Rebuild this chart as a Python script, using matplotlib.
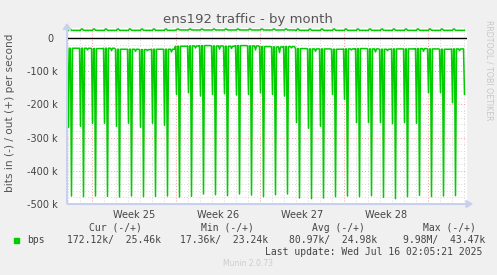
import numpy as np
import matplotlib
matplotlib.use("Agg")
import matplotlib.pyplot as plt

# ---- data (k bits/s), one value per day in view ----
in_base = [31, 31, 32, 31, 34, 34, 35, 34, 34, 25, 24, 23, 24, 25, 23, 24, 26, 27, 26,
           32, 33, 33, 34, 33, 32, 33, 34, 33, 33, 32, 33, 34, 33, 33]
in_notch = [0, 36, 0, 38, 0, 40, 38, 0, 42, 0, 30, 0, 34, 32, 0, 36, 0, 44, 30,
            0, 40, 0, 0, 36, 0, 42, 38, 0, 0, 40, 0, 0, 38, 0]
in_shallow = [269, 266, 257, 257, 266, 257, 269, 257, 263, 170, 165, 175, 170, 168, 172,
              170, 165, 170, 175, 255, 272, 266, 170, 185, 255, 255, 255, 258, 255, 257,
              165, 165, 195, 170]
in_deep = [476, 478, 476, 477, 479, 476, 478, 477, 476, 479, 477, 470, 472, 475, 470, 473,
           478, 472, 470, 482, 484, 482, 478, 476, 478, 475, 480, 484, 478, 474, 478, 476, 475]
out_base = [23, 23, 23, 23, 23, 23, 23, 23, 23, 24, 24, 24, 24, 24, 24, 24, 24, 24, 24,
            23, 23, 23, 23, 23, 23, 23, 23, 23, 23, 23, 23, 23, 23, 23]
out_bump = [27, 27, 27, 27, 27, 27, 27, 27, 27, 27, 27, 27, 27, 27, 27, 27, 27, 27, 27,
            27, 27, 27, 27, 27, 27, 27, 27, 27, 27, 27, 27, 27, 27, 27]

week_labels = ["Week 25", "Week 26", "Week 27", "Week 28"]
ytick_vals = [0, -100, -200, -300, -400, -500]
ytick_labels = ["0 ", "-100 k", "-200 k", "-300 k", "-400 k", "-500 k"]

legend_heads = ["Cur (-/+)", "Min (-/+)", "Avg (-/+)", "Max (-/+)"]
legend_vals = ["172.12k/  25.46k", "17.36k/  23.24k", "80.97k/  24.98k", "9.98M/  43.47k"]

# ---- assemble 2-hour samples ----
xs, yin, yout = [], [], []
n_days = len(in_base)
for d in range(n_days):
    for j in range(12):
        i = d * 12 + j
        x = (i + 0.5) / 12.0
        if x > 33.2:
            break
        v = -in_base[d]
        if j == 1:
            v = -in_shallow[d]
        elif j == 4 and d < len(in_deep):
            v = -in_deep[d]
        elif j == 8 and in_notch[d]:
            v = -in_notch[d]
        o = out_base[d]
        if j in (2, 3):
            o = out_bump[d]
        xs.append(x)
        yin.append(v * 1000)
        yout.append(o * 1000)

BG = "#F0F0F0"
fig = plt.figure(figsize=(4.97, 2.75), dpi=100, facecolor=BG)
ax = fig.add_axes([67 / 497, (275 - 204) / 275, 400 / 497, 176 / 275])
ax.set_facecolor("white")

XMAX = 400 / 12.0
ax.set_xlim(0, XMAX)
ax.set_ylim(-500000, 30000)

# grid
for d in range(34):
    xd = (1 / 12) + d
    if xd > XMAX:
        break
    is_week = (d - 2) % 7 == 0
    ax.axvline(xd, color=(1, 0.6, 0.6) if is_week else "#D8D8D8",
               lw=0.7, ls=(0, (1, 2)), zorder=1)
for v in range(-500, 40, 20):
    if v % 100 == 0:
        ax.axhline(v * 1000, color=(1, 0.6, 0.6), lw=0.7, ls=(0, (1, 2)), zorder=1)
    else:
        ax.axhline(v * 1000, color="#D8D8D8", lw=0.7, ls=(0, (1, 2)), zorder=1)

ax.axhline(0, color="black", lw=1.0, zorder=3)
ax.plot(xs, yout, color="#00CC00", lw=1.1, zorder=4)
ax.plot(xs, yin, color="#00CC00", lw=1.1, zorder=4)

for s in ["top", "right"]:
    ax.spines[s].set_visible(False)
ax.spines["left"].set_color("#C8D0E0")
ax.spines["bottom"].set_color("#C8D0E0")
ax.spines["left"].set_linewidth(0.8)
ax.spines["bottom"].set_linewidth(0.8)

ax.set_yticks([v * 1000 for v in ytick_vals])
ax.set_yticklabels(ytick_labels)
week_pos = [2 + 1 / 12 + 3.5 + 7 * k for k in range(len(week_labels))]
ax.set_xticks(week_pos)
ax.set_xticklabels(week_labels)
ax.tick_params(axis="both", length=0, labelsize=7, colors="#444444", pad=4)
ax.tick_params(axis="y", pad=7)

# arrows
fig.patches.append(matplotlib.patches.FancyArrow(67 / 497, (275 - 204) / 275, 0, 180 / 275,
                   width=0, head_width=0.015, head_length=0.02, color="#C8D0F0",
                   transform=fig.transFigure, length_includes_head=True))
fig.patches.append(matplotlib.patches.FancyArrow(67 / 497, (275 - 204) / 275, 405 / 497, 0,
                   width=0, head_width=0.025, head_length=0.012, color="#C8D0F0",
                   transform=fig.transFigure, length_includes_head=True))

fig.text(248 / 497, 1 - 19 / 275, "ens192 traffic - by month", ha="center", va="center",
         fontsize=9.5, color="#555555")
fig.text(10 / 497, 1 - 113 / 275, "bits in (-) / out (+) per second", rotation=90,
         ha="center", va="center", fontsize=7.6, color="#555555")
fig.text(489 / 497, 1 - 70 / 275, "RRDTOOL / TOBI OETIKER", rotation=270, ha="center",
         va="center", fontsize=5.7, color="#C8C8C8")

mono = "DejaVu Sans Mono"
head_x = [89, 201, 312, 423]
val_x = [67, 180, 289, 403]
for hx, t in zip(head_x, legend_heads):
    fig.text(hx / 497, 1 - 228 / 275, t, family=mono, fontsize=7, color="#444444",
             ha="left", va="center")
fig.patches.append(matplotlib.patches.Rectangle((14 / 497, 1 - 243 / 275), 5 / 497, 5 / 275,
                   color="#00CC00", transform=fig.transFigure))
fig.text(27 / 497, 1 - 240 / 275, "bps", family=mono, fontsize=7, color="#444444",
         ha="left", va="center")
for vx, t in zip(val_x, legend_vals):
    fig.text(vx / 497, 1 - 240 / 275, t, family=mono, fontsize=7, color="#444444",
             ha="left", va="center")
fig.text(482 / 497, 1 - 252 / 275, "Last update: Wed Jul 16 02:05:21 2025", family=mono,
         fontsize=7, color="#444444", ha="right", va="center")
fig.text(248 / 497, 1 - 264 / 275, "Munin 2.0.73", fontsize=5.5, color="#CCCCCC",
         ha="center", va="center")

fig.savefig("out.png", dpi=100, facecolor=BG)
